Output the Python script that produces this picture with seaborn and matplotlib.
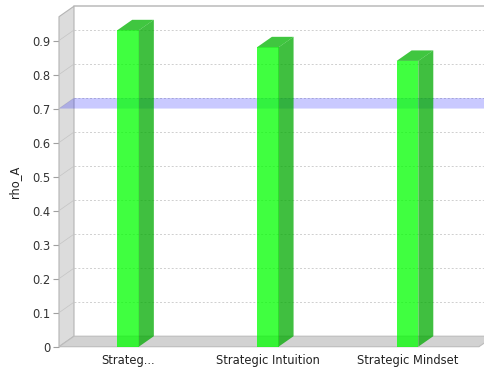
import matplotlib
matplotlib.use("Agg")
import matplotlib.pyplot as plt
import seaborn as sns
import pandas as pd
from matplotlib.patches import Polygon

# data
categories = ["Strateg...", "Strategic Intuition", "Strategic Mindset"]
rho_a = [0.93, 0.88, 0.84]
marker_value = 0.7
y_ticks = [0.0, 0.1, 0.2, 0.3, 0.4, 0.5, 0.6, 0.7, 0.8, 0.9]

sns.set_theme(style="white")
plt.rcParams["font.family"] = ["DejaVu Sans"]

W, H, DPI = 485, 367, 100
fig = plt.figure(figsize=(W / DPI, H / DPI), dpi=DPI)
left_px, right_px, bottom_px, top_px = 59, 479, 346.7, 16.7
ax = fig.add_axes([left_px / W, (H - bottom_px) / H,
                   (right_px - left_px) / W, (bottom_px - top_px) / H])

df = pd.DataFrame({"category": categories, "rho_A": rho_a})
sns.barplot(data=df, x="category", y="rho_A", color="#00ff00", saturation=1,
            alpha=0.75, width=0.155, linewidth=0, ax=ax, zorder=4)

xmin, xmax = -0.494, 2.512
ymin, ymax = 0.0, 0.97
ax.set_xlim(xmin, xmax)
ax.set_ylim(ymin, ymax)

# 3D depth offset expressed in data units
px_x = (right_px - left_px) / (xmax - xmin)
px_y = (bottom_px - top_px) / (ymax - ymin)
ox, oy = 15 / px_x, 10.5 / px_y

ax.patch.set_visible(False)
for s in ax.spines.values():
    s.set_visible(False)

# back wall grid lines and top edge
for t in y_ticks[1:]:
    ax.plot([xmin + ox, xmax + ox + 1], [t + oy, t + oy], color="#cfcfcf",
            lw=0.7, dashes=(2, 2), zorder=1, clip_on=False)
    ax.plot([xmin, xmin + ox], [t, t + oy], color="#c4c4c4", lw=0.5,
            zorder=2.5, clip_on=False)
ax.plot([xmin + ox, xmax + ox + 1], [ymax + oy, ymax + oy], color="#c0c0c0",
        lw=1.2, zorder=1, clip_on=False)

# left wall
ax.add_patch(Polygon([(xmin, 0), (xmin, ymax), (xmin + ox, ymax + oy), (xmin + ox, oy)],
                     closed=True, facecolor="#dcdcdc", edgecolor="#b4b4b4", lw=0.8,
                     zorder=2, clip_on=False))
# floor
ax.add_patch(Polygon([(xmin, 0), (xmax, 0), (xmax + ox, oy), (xmin + ox, oy)],
                     closed=True, facecolor="#d2d2d2", edgecolor="#bcbcbc", lw=0.8,
                     zorder=2, clip_on=False))

# side and top faces of each bar
for bar in list(ax.patches):
    if not hasattr(bar, "get_width") or bar.get_zorder() != 4:
        continue
    x0 = bar.get_x()
    x1 = x0 + bar.get_width()
    h = bar.get_height()
    ax.add_patch(Polygon([(x1, 0), (x1 + ox, oy), (x1 + ox, h + oy), (x1, h)],
                         closed=True, facecolor="#00aa00", alpha=0.75, lw=0,
                         zorder=4, clip_on=False))
    ax.add_patch(Polygon([(x0, h), (x1, h), (x1 + ox, h + oy), (x0 + ox, h + oy)],
                         closed=True, facecolor="#00b400", alpha=0.75, lw=0,
                         zorder=4, clip_on=False))

# range marker plane, behind the translucent bars
ax.add_patch(Polygon([(xmin, marker_value), (xmin + ox, marker_value + oy),
                      (xmax + ox + 1, marker_value + oy), (xmax + 1, marker_value)],
                     closed=True, facecolor="#0000ff", alpha=0.21, lw=0,
                     zorder=3, clip_on=False))

ax.set_yticks(y_ticks)
ax.set_yticklabels([f"{v:g}" for v in y_ticks])
ax.tick_params(axis="y", left=True, length=4, width=0.8, color="#a0a0a0",
               labelsize=8.3, labelcolor="#333333", pad=2)
ax.tick_params(axis="x", bottom=False, length=0, labelsize=8.3,
               labelcolor="#222222", pad=5)
ax.set_xlabel("")
ax.set_ylabel("rho_A", fontsize=8.3, color="#222222", labelpad=8)

fig.savefig("out.png", dpi=DPI)
